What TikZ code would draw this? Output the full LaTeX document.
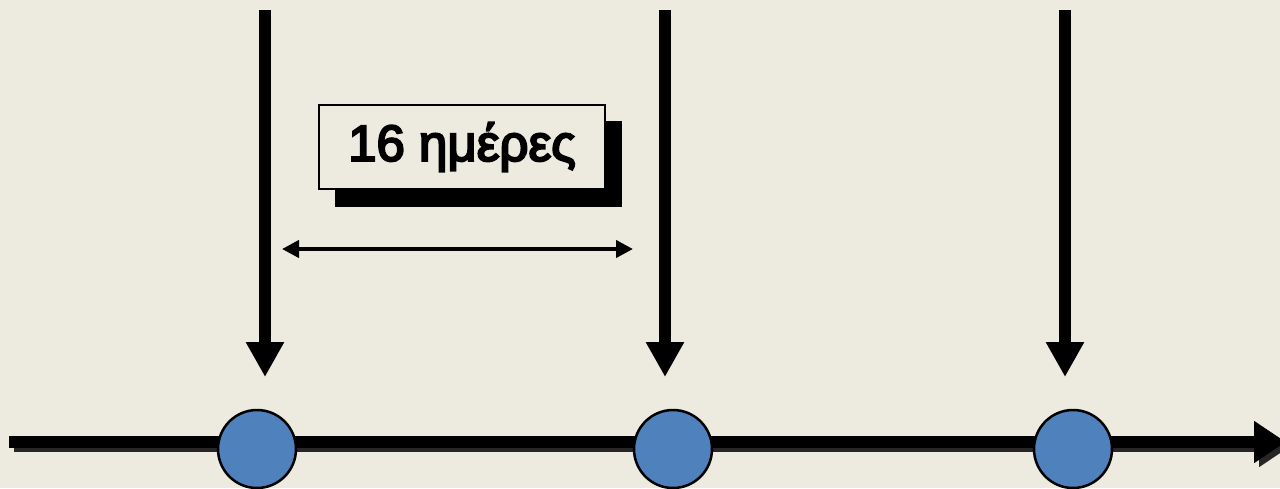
\documentclass[tikz,border=0pt]{standalone}
\usepackage{fontspec}
\setmainfont{Liberation Sans}
\newfontfamily\capfont{Liberation Sans}[FakeBold=4]
\usetikzlibrary{arrows.meta}
\definecolor{paper}{HTML}{EDEBE0}
\definecolor{dotblue}{HTML}{4F81BD}
\tikzset{
  pointer/.style={line width=12pt, -{Triangle[width=36pt,length=35pt]}},
  axis/.style={line width=12pt, -{Triangle[width=40pt,length=32pt]}},
  day/.style={circle, draw=black, line width=2.5pt, fill=dotblue, minimum size=78pt, inner sep=0pt},
  span/.style={line width=4pt, {Triangle[width=17pt,length=17pt]}-{Triangle[width=17pt,length=17pt]}},
  caption/.style={draw=black, line width=1.5pt, fill=paper, minimum width=286pt, minimum height=84pt, inner sep=0pt,
    font=\capfont\fontsize{51}{56}\selectfont}
}
\begin{document}
\begin{tikzpicture}[x=1pt,y=-1pt]
    \useasboundingbox[fill=paper] (0,0) rectangle (1280,488);
    % time axis, with its shadow
    \coordinate (t0) at (9,442);
    \coordinate (t1) at (1286,442);
    \draw [axis, black!85] ([shift={(5,4)}]t0) -- ([shift={(5,4)}]t1);
    \draw [axis] (t0) -- (t1);
    % sampling days
    \node [day] (d1) at (257,449) {};
    \node [day] (d2) at (673,449) {};
    \node [day] (d3) at (1073,449) {};
    % arrows pointing down to the days
    \coordinate (p1) at (265,10);
    \coordinate (p2) at (665,10);
    \coordinate (p3) at (1065,10);
    \coordinate (q1) at (265,377);
    \coordinate (q2) at (665,377);
    \coordinate (q3) at (1065,377);
    \draw [pointer] (p1) -- (q1);
    \draw [pointer] (p2) -- (q2);
    \draw [pointer] (p3) -- (q3);
    % interval between two days
    \coordinate (s1) at (282,249);
    \coordinate (s2) at (633,249);
    \draw [span] (s1) -- (s2);
    \fill [black] (335,121) rectangle (622,207);
    \node [caption] (lbl) at (462,147) {16 ημέρες};
\end{tikzpicture}
\end{document}
